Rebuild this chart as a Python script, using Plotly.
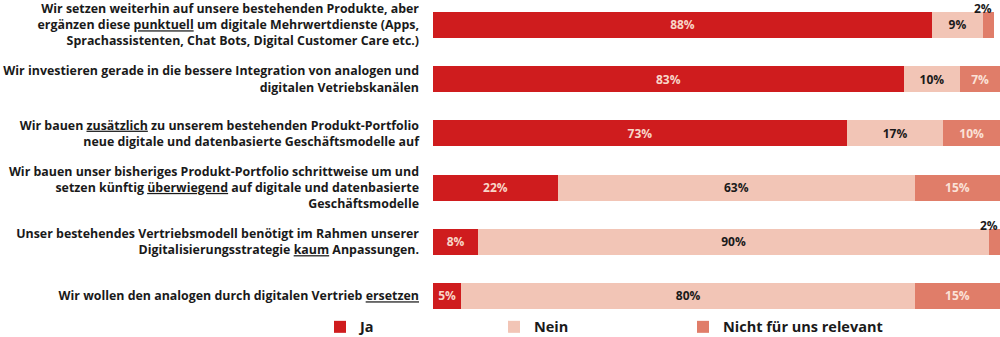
import plotly.graph_objects as go

categories = [
    "Wir setzen weiterhin auf unsere bestehenden Produkte, aber<br>ergänzen diese <u>punktuell</u> um digitale Mehrwertdienste (Apps,<br>Sprachassistenten, Chat Bots, Digital Customer Care etc.)",
    "Wir investieren gerade in die bessere Integration von analogen und<br>digitalen Vetriebskanälen",
    "Wir bauen <u>zusätzlich</u> zu unserem bestehenden Produkt-Portfolio<br>neue digitale und datenbasierte Geschäftsmodelle auf",
    "Wir bauen unser bisheriges Produkt-Portfolio schrittweise um und<br>setzen künftig <u>überwiegend</u> auf digitale und datenbasierte<br>Geschäftsmodelle",
    "Unser bestehendes Vertriebsmodell benötigt im Rahmen unserer<br>Digitalisierungsstrategie <u>kaum</u> Anpassungen.",
    "Wir wollen den analogen durch digitalen Vertrieb <u>ersetzen</u>",
]
series_names = ["Ja", "Nein", "Nicht für uns relevant"]
ja = [88, 83, 73, 22, 8, 5]
nein = [9, 10, 17, 63, 90, 80]
nicht = [2, 7, 10, 15, 2, 15]

FONT = "Open Sans"
colors = ["#cf1c1e", "#f2c5b6", "#e07d69"]
text_colors = ["#f8d6c8", "#1a1a1a", "#fbe2d8"]
legends = ["legend", "legend2", "legend3"]

fig = go.Figure()
for name, vals, col, tcol, leg in zip(series_names, [ja, nein, nicht], colors, text_colors, legends):
    fig.add_trace(go.Bar(
        y=categories, x=vals, orientation="h", name=name,
        marker=dict(color=col, line=dict(width=0)),
        text=[f"{v}%" if v >= 5 else "" for v in vals],
        textposition="inside", insidetextanchor="middle", constraintext="none",
        textfont=dict(family=FONT, size=12, color=tcol, weight="bold"),
        legend=leg, hoverinfo="skip",
    ))

# small segments: label above the bar end
annotations = []
for cat, a, b, c in zip(categories, ja, nein, nicht):
    if c < 5:
        annotations.append(dict(
            x=a + b + c, y=cat, xref="x", yref="y", text=f"{c}%", showarrow=False,
            xanchor="right", yanchor="middle", yshift=16,
            font=dict(family=FONT, size=12, color="#1a1a1a", weight="bold"),
        ))

leg_common = dict(orientation="h", yanchor="middle", y=-0.0216, xanchor="left",
                  font=dict(family=FONT, size=14.5, color="#1a1a1a", weight="bold"),
                  bgcolor="rgba(0,0,0,0)", borderwidth=0)
fig.update_layout(
    width=1000, height=337, autosize=False,
    margin=dict(l=433, r=0, t=0, b=17, pad=0, autoexpand=False),
    barmode="stack", bargap=0.52,
    plot_bgcolor="white", paper_bgcolor="white",
    font=dict(family=FONT, size=13, color="#1a1a1a"),
    xaxis=dict(range=[0, 100], visible=False, fixedrange=True, automargin=False),
    yaxis=dict(type="category", range=[5.443, -0.461], showgrid=False, zeroline=False,
               showline=False, ticks="", ticklabelstandoff=13, automargin=False,
               tickfont=dict(family=FONT, size=12.4, color="#1a1a1a", weight="bold")),
    legend=dict(x=-0.1993, **leg_common),
    legend2=dict(x=0.1076, **leg_common),
    legend3=dict(x=0.4409, **leg_common),
    annotations=annotations,
    showlegend=True,
)
fig.write_html("out.html")
